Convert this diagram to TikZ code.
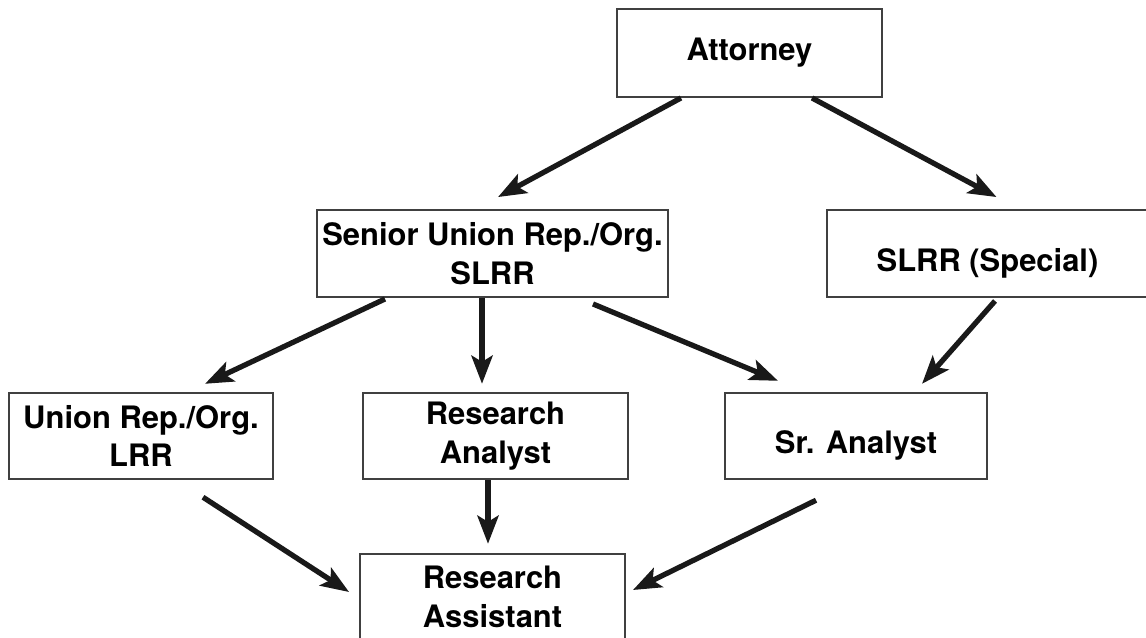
\documentclass[tikz,border=0pt]{standalone}
\usepackage{fontspec}
\setmainfont{TeX Gyre Heros}
\usetikzlibrary{positioning}
\usetikzlibrary{calc,arrows.meta}
\tikzstyle{box} = [draw=black!75, line width=1.1pt, align=center, inner sep=0pt, minimum height=1.73cm, font=\bfseries\fontsize{17.6}{22}\selectfont]
\tikzstyle{single} = [text height=20pt, text depth=0pt]
\tikzstyle{arrow} = [line width=3pt, black!90, -{Stealth[length=16pt,width=12pt,inset=3.5pt]}]

\begin{document}
\begin{tikzpicture}[x=0.02cm,y=-0.02cm]
\clip (0,0) rectangle (1146,637);
\node (att) [box, minimum width=5.3cm, minimum height=1.76cm] at (749.5,53) {Attorney};
\node (sen) [box, minimum width=7.02cm, minimum height=1.74cm] at (492.5,253.5) {Senior Union Rep./Org.\\SLRR};
\node (spec) [box, single, minimum width=6.42cm, minimum height=1.74cm] at (987.5,253.5) {SLRR (Special)};
\node (union) [box, minimum width=5.28cm] at (141,436) {Union Rep./Org.\\LRR};
\node (ranl) [box, minimum width=5.3cm] at (495.5,436) {Research\\Analyst};
\node (sran) [box, single, minimum width=5.24cm] at (856,436) {Sr. Analyst};
\node (rasst) [box, minimum width=5.3cm] at (492.5,597) {Research\\Assistant};
\draw[arrow] ($(att.south)+(-68.5,0)$) -- ($(sen.north)+(5.5,-12)$);
\draw[arrow] ($(att.south)+(62.5,0)$) -- ($(spec.north)+(9,-12)$);
\draw[arrow] ($(sen.south)+(-107.5,1)$) -- ($(union.north)+(64,-8)$);
\draw[arrow] ($(sen.south)+(-10.5,0)$) -- ($(ranl.north)+(-13.5,-8)$);
\draw[arrow] ($(sen.south)+(100.5,6)$) -- ($(sran.north)+(-78,-11)$);
\draw[arrow] ($(spec.south)+(7.5,3)$) -- ($(sran.north)+(66,-8)$);
\draw[arrow] ($(union.south)+(62,17)$) -- ($(rasst.west)+(-10,-5)$);
\draw[arrow] ($(ranl.south)+(-7.5,0)$) -- ($(rasst.north)+(-4.5,-9)$);
\draw[arrow] ($(sran.south)+(-40,20)$) -- ($(rasst.east)+(7,-7)$);
\end{tikzpicture}
\end{document}
